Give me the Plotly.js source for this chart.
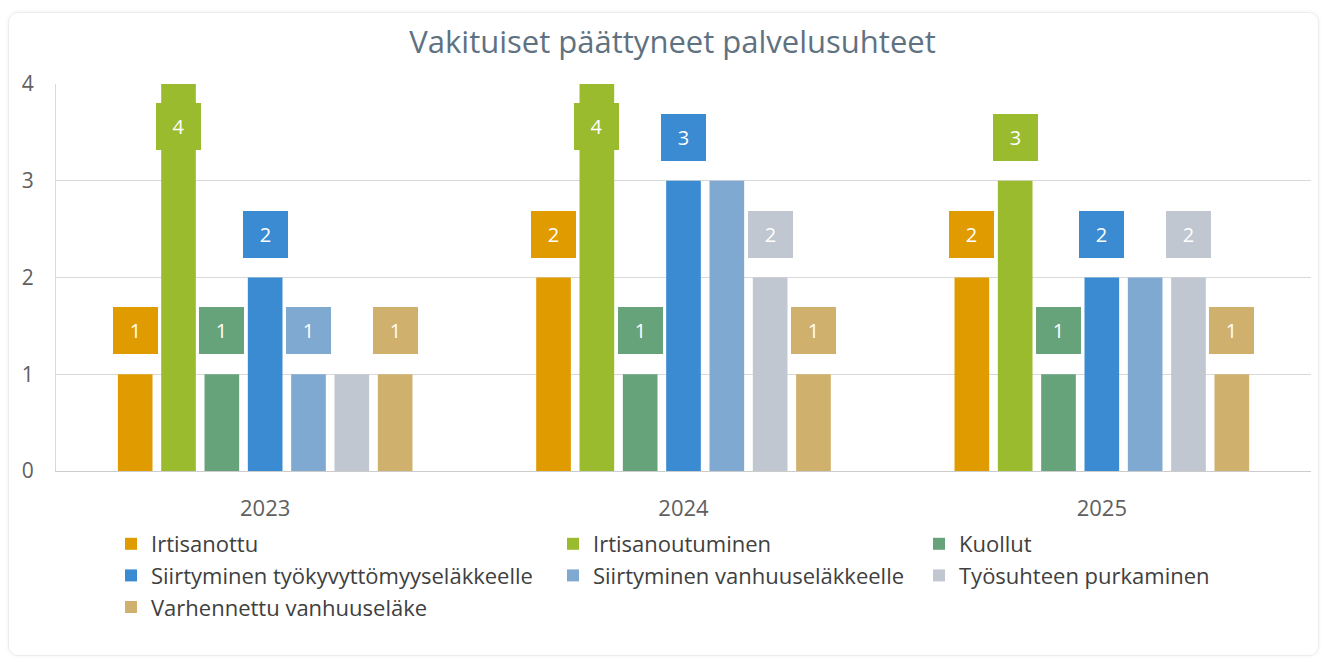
<!DOCTYPE html>
<html>
<head>
<meta charset="utf-8">
<script src="https://cdn.plot.ly/plotly-3.0.1.min.js"></script>
<style>
  html, body { margin: 0; padding: 0; background: #ffffff; }
  #card { position: absolute; left: 8px; top: 12px; width: 1309px; height: 642px;
          border: 1px solid #ececec; border-radius: 10px; box-shadow: 0 0 4px rgba(0,0,0,0.06); }
  #chart { position: absolute; left: 0; top: 0; width: 1324px; height: 662px; }
</style>
</head>
<body>
<div id="card"></div>
<div id="chart"></div>
<script>
// ---- data ----
const categories = ['2023', '2024', '2025'];
const seriesNames = [
  'Irtisanottu',
  'Irtisanoutuminen',
  'Kuollut',
  'Siirtyminen työkyvyttömyyseläkkeelle',
  'Siirtyminen vanhuuseläkkeelle',
  'Työsuhteen purkaminen',
  'Varhennettu vanhuuseläke'
];
const irtisanottu = [1, 2, 2];
const irtisanoutuminen = [4, 4, 3];
const kuollut = [1, 1, 1];
const tyokyvyttomyyselakkeelle = [2, 3, 2];
const vanhuuselakkeelle = [1, 3, 2];
const tyosuhteenPurkaminen = [1, 2, 2];
const varhennettuVanhuuselake = [1, 1, 1];
const yTicks = [0, 1, 2, 3, 4];

const seriesValues = [irtisanottu, irtisanoutuminen, kuollut, tyokyvyttomyyselakkeelle,
                      vanhuuselakkeelle, tyosuhteenPurkaminen, varhennettuVanhuuselake];
const colors = ['#E09B00', '#9BBB2F', '#66A27A', '#3A8BD1', '#7FA9D0', '#C0C7D0', '#CFB06C'];

// ---- layout constants ----
const W = 1324, H = 662;
const mL = 56, mR = 13, mT = 84, mB = 191;
const bargap = 0.275, bargroupgap = 0.2;
const yMax = 4;
const plotH = H - mT - mB;
const pxPerUnit = plotH / yMax;
const lblW = 45, lblH = 47, lblOff = 20, lblInside = 19;
const legendCols = [111, 553, 919];   // px, container
const legendTop = 523;
const FONT = 'Open Sans, sans-serif';

const traces = seriesNames.map((name, i) => ({
  type: 'bar',
  name: name,
  x: categories,
  y: seriesValues[i],
  marker: { color: colors[i] },
  legend: i % 3 === 0 ? 'legend' : (i % 3 === 1 ? 'legend2' : 'legend3'),
  legendgroup: 'g' + i,
  hoverinfo: 'x+y+name'
}));

// data labels (Highcharts-like boxes with overlap hiding)
const n = seriesNames.length;
const slot = (1 - bargap) / n;   // width of one bar slot, in category units
const annotations = [];
categories.forEach((cat, g) => {
  const shown = [];
  seriesValues.forEach((vals, i) => {
    const v = vals[g];
    let bottomPx, inside = false;
    const barTopPx = (yMax - v) * pxPerUnit;
    if (barTopPx - lblOff - lblH < 0) {
      inside = true;
      bottomPx = barTopPx + lblInside + lblH;
    } else {
      bottomPx = barTopPx - lblOff;
    }
    const topPx = bottomPx - lblH;
    const overlaps = shown.some(s => Math.abs(s.i - i) === 1 && !(s.bottom <= topPx || s.top >= bottomPx));
    if (overlaps) return;
    shown.push({ i: i, top: topPx, bottom: bottomPx });
    annotations.push({
      x: g + (i - (n - 1) / 2) * slot,
      y: v,
      xref: 'x', yref: 'y',
      xanchor: 'center',
      yanchor: inside ? 'top' : 'bottom',
      yshift: inside ? -lblInside : lblOff,
      text: String(v),
      showarrow: false,
      width: lblW, height: lblH,
      bgcolor: colors[i],
      borderpad: 0,
      borderwidth: 0,
      font: { family: FONT, size: 20, color: '#ffffff' }
    });
  });
});

const legendBase = {
  orientation: 'v',
  xref: 'container', yref: 'container',
  xanchor: 'left', yanchor: 'top',
  y: 1 - legendTop / H,
  bgcolor: 'rgba(0,0,0,0)',
  borderwidth: 0,
  tracegroupgap: 0,
  font: { family: FONT, size: 22, color: '#404040' }
};

const layout = {
  width: W, height: H,
  paper_bgcolor: 'rgba(0,0,0,0)',
  plot_bgcolor: 'rgba(0,0,0,0)',
  margin: { l: mL, r: mR, t: mT, b: mB, pad: 0, autoexpand: false },
  barmode: 'group',
  bargap: bargap,
  bargroupgap: bargroupgap,
  title: {
    text: 'Vakituiset päättyneet palvelusuhteet',
    x: 0.508, xanchor: 'center',
    y: 1 - 42 / H, yanchor: 'middle',
    font: { family: FONT, size: 31, color: '#5F7282' }
  },
  xaxis: {
    type: 'category',
    categoryarray: categories,
    range: [-0.5, categories.length - 0.5],
    showgrid: false,
    showline: true, linecolor: '#cccccc', linewidth: 1,
    ticks: '',
    ticklabelstandoff: 18,
    tickfont: { family: FONT, size: 22, color: '#606060' },
    automargin: false,
    fixedrange: true
  },
  yaxis: {
    range: [0, yMax],
    tickvals: yTicks,
    ticktext: yTicks.map(String),
    showgrid: true, gridcolor: '#d9d9d9', gridwidth: 1,
    zeroline: false,
    showline: true, linecolor: '#d9d9d9', linewidth: 1,
    ticks: '',
    ticklabelstandoff: 17,
    tickfont: { family: FONT, size: 21, color: '#606060' },
    automargin: false,
    fixedrange: true
  },
  legend: Object.assign({}, legendBase, { x: legendCols[0] / W }),
  legend2: Object.assign({}, legendBase, { x: legendCols[1] / W }),
  legend3: Object.assign({}, legendBase, { x: legendCols[2] / W }),
  annotations: annotations,
  showlegend: true
};

Plotly.newPlot('chart', traces, layout, { displayModeBar: false, responsive: false });
</script>
</body>
</html>
